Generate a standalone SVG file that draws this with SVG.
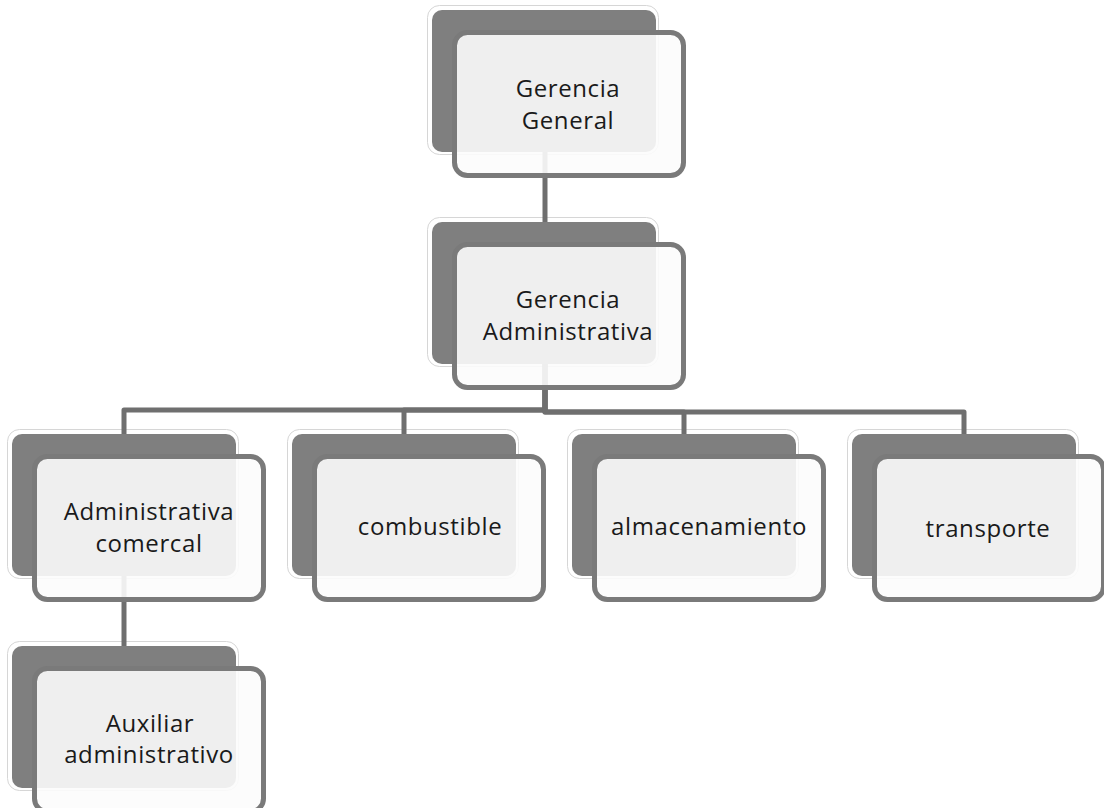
<svg xmlns="http://www.w3.org/2000/svg" width="1104" height="808" viewBox="0 0 1104 808">
<defs>
<style>
.bo{fill:#ffffff;stroke:#d6d6d6;stroke-width:1}
.bd{fill:#7f7f7f}
.fr{fill:#fcfcfc;fill-opacity:0.9;stroke:#7a7a7a;stroke-width:5}
.cn{fill:none;stroke:#6f6f6f;stroke-width:5;stroke-linejoin:round}
.tx{font-family:"Open Sans","Noto Sans",sans-serif;font-size:24px;letter-spacing:0.6px;fill:#1a1a1a;text-anchor:middle}
</style>
</defs>
<rect width="1104" height="808" fill="#ffffff"/>

<g id="backs">
<g transform="translate(427,5)"><rect class="bo" x="0.5" y="0.5" width="231" height="149" rx="12"/><rect class="bd" x="5" y="5" width="224" height="142" rx="10"/></g>
<g transform="translate(427,217)"><rect class="bo" x="0.5" y="0.5" width="231" height="149" rx="12"/><rect class="bd" x="5" y="5" width="224" height="142" rx="10"/></g>
<g transform="translate(7,429)"><rect class="bo" x="0.5" y="0.5" width="231" height="149" rx="12"/><rect class="bd" x="5" y="5" width="224" height="142" rx="10"/></g>
<g transform="translate(287,429)"><rect class="bo" x="0.5" y="0.5" width="231" height="149" rx="12"/><rect class="bd" x="5" y="5" width="224" height="142" rx="10"/></g>
<g transform="translate(567,429)"><rect class="bo" x="0.5" y="0.5" width="231" height="149" rx="12"/><rect class="bd" x="5" y="5" width="224" height="142" rx="10"/></g>
<g transform="translate(847,429)"><rect class="bo" x="0.5" y="0.5" width="231" height="149" rx="12"/><rect class="bd" x="5" y="5" width="224" height="142" rx="10"/></g>
<g transform="translate(7,641)"><rect class="bo" x="0.5" y="0.5" width="231" height="149" rx="12"/><rect class="bd" x="5" y="5" width="224" height="142" rx="10"/></g>
</g>

<g id="connectors">
<path class="cn" d="M545 152 V222"/>
<path class="cn" d="M545 364 V410 H124 V434"/>
<path class="cn" d="M545 364 V410 H404 V434"/>
<path class="cn" d="M545 364 V412 H684 V434"/>
<path class="cn" d="M545 364 V412 H964 V434"/>
<path class="cn" d="M124 576 V646"/>
</g>

<g id="n-gerencia-general">
<rect class="fr" x="454.5" y="32.5" width="229" height="143" rx="13"/>
<text class="tx" x="568" y="97">Gerencia</text>
<text class="tx" x="568" y="129">General</text>
</g>
<g id="n-gerencia-administrativa">
<rect class="fr" x="454.5" y="244.5" width="229" height="143" rx="13"/>
<text class="tx" x="568" y="308">Gerencia</text>
<text class="tx" x="568" y="340">Administrativa</text>
</g>
<g id="n-administrativa-comercal">
<rect class="fr" x="34.5" y="456.5" width="229" height="143" rx="13"/>
<text class="tx" x="149" y="520">Administrativa</text>
<text class="tx" x="149" y="552">comercal</text>
</g>
<g id="n-combustible">
<rect class="fr" x="314.5" y="456.5" width="229" height="143" rx="13"/>
<text class="tx" x="430" y="535">combustible</text>
</g>
<g id="n-almacenamiento">
<rect class="fr" x="594.5" y="456.5" width="229" height="143" rx="13"/>
<text class="tx" x="709" y="535">almacenamiento</text>
</g>
<g id="n-transporte">
<rect class="fr" x="874.5" y="456.5" width="229" height="143" rx="13"/>
<text class="tx" x="988" y="537">transporte</text>
</g>
<g id="n-auxiliar-administrativo">
<rect class="fr" x="34.5" y="668.5" width="229" height="143" rx="13"/>
<text class="tx" x="150" y="732">Auxiliar</text>
<text class="tx" x="149" y="763">administrativo</text>
</g>
</svg>
